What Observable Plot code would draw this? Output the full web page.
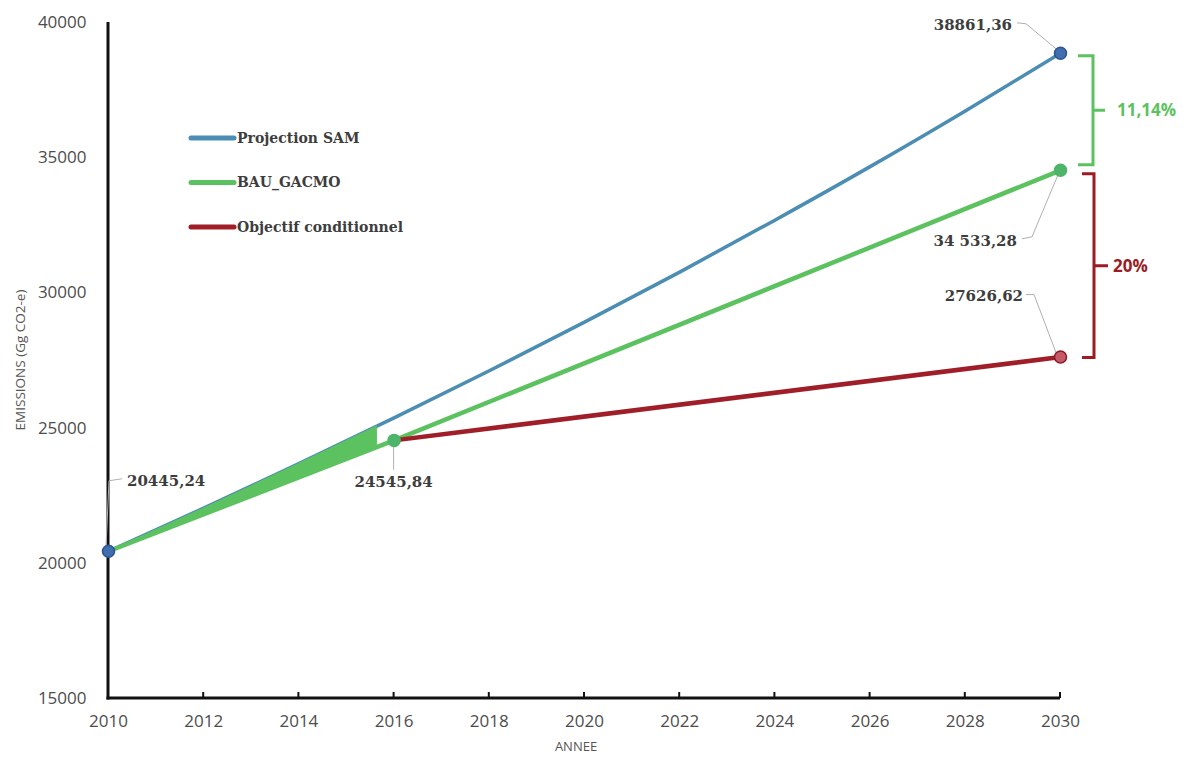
<!DOCTYPE html>
<html><head><meta charset="utf-8">
<script src="https://cdn.jsdelivr.net/npm/d3@7"></script>
<script src="https://cdn.jsdelivr.net/npm/@observablehq/plot@0.6"></script>
<style>body{margin:0;background:#fff;}</style>
</head><body><div id="chart"></div>
<script>
// ---- data ----
const xTicks = [2010, 2012, 2014, 2016, 2018, 2020, 2022, 2024, 2026, 2028, 2030];
const yTicks = [15000, 20000, 25000, 30000, 35000, 40000];
const samYears  = [2010, 2012, 2014, 2016, 2018, 2020, 2022, 2024, 2026, 2028, 2030];
const samValues = [20445.24, 22040, 23690, 25380, 27120, 28920, 30770, 32690, 34670, 36730, 38861.36];
const bauYears  = [2010, 2016, 2030];
const bauValues = [20445.24, 24545.84, 34533.28];
const objYears  = [2016, 2030];
const objValues = [24545.84, 27626.62];
const wedgeYears = [2010, 2012, 2014, 2015.65];
const wedgeLow   = [20445.24, 21812, 23179, 24306];
const wedgeHigh  = [20445.24, 22040, 23690, 25090];
const seriesNames  = ["Projection SAM", "BAU_GACMO", "Objectif conditionnel"];
const seriesColors = ["#4b8db3", "#5cc260", "#a01e28"];
const labelYears  = [2010, 2016, 2030, 2030, 2030];
const labelValues = [20445.24, 24545.84, 38861.36, 34533.28, 27626.62];
const labelTexts  = ["20445,24", "24545,84", "38861,36", "34 533,28", "27626,62"];
const dotFills    = ["#3f6fae", "#4cb56a", "#3f6fae", "#4cb56a", "#c45a68"];
const dotStrokes  = ["#2d5590", "#4cb56a", "#2d5590", "#4cb56a", "#8b1a22"];
const gapTop    = [38861.36, 34533.28];
const gapBottom = [34533.28, 27626.62];
const gapTexts  = ["11,14%", "20%"];
const gapColors = ["#5cc260", "#9b1c24"];
const xTitle = "ANNEE";
const yTitle = "EMISSIONS (Gg CO2-e)";

// ---- layout (pixel offsets only) ----
const labelLayout = [
  {dx: 19, dy: -70, anchor: "start", leader: [[-2, -4], [1, -70], [14, -72]]},
  {dx: 0, dy: 42, anchor: "middle", leader: [[0, 5], [0, 30]]},
  {dx: -48, dy: -28, anchor: "end", leader: [[-4, -4], [-34, -29], [-43, -30]]},
  {dx: -43, dy: 71, anchor: "end", leader: [[-2, 5], [-28, 67], [-38, 69]]},
  {dx: -37, dy: -61, anchor: "end", leader: [[-4, -4], [-26, -62], [-34, -62]]}
];
const bracketLayout = [
  {dx: 33, top: 3, bottom: -5, cap: 15, tick: 12, textDx: 57},
  {dx: 34, top: 4, bottom: 1, cap: 12, tick: 14, textDx: 53}
];

function annotate(index, scales, values, dims) {
  const X = scales.x, Y = scales.y;
  const g = d3.create("svg:g").attr("text-anchor", "start");
  const fl = dims.marginLeft, ft = dims.marginTop;
  const fb = dims.height - dims.marginBottom;
  const fr = dims.width - dims.marginRight;
  // axis lines
  g.append("line").attr("x1", fl).attr("x2", fl).attr("y1", ft).attr("y2", fb + 1.5)
    .attr("stroke", "#111").attr("stroke-width", 3);
  g.append("line").attr("x1", fl - 1.5).attr("x2", fr).attr("y1", fb).attr("y2", fb)
    .attr("stroke", "#111").attr("stroke-width", 3);
  xTicks.forEach(t => {
    g.append("line").attr("x1", X(t)).attr("x2", X(t)).attr("y1", fb).attr("y2", fb - 6)
      .attr("stroke", "#111").attr("stroke-width", 2);
  });
  // axis titles
  g.append("text").attr("x", (fl + fr) / 2 - 8).attr("y", fb + 53)
    .attr("text-anchor", "middle").attr("font-family", "Open Sans").attr("font-size", 13)
    .attr("fill", "#555").text(xTitle);
  g.append("text").attr("transform", `translate(${fl - 88},${(ft + fb) / 2}) rotate(-90)`)
    .attr("text-anchor", "middle").attr("dy", "0.35em").attr("font-family", "Open Sans").attr("font-size", 13.5)
    .attr("fill", "#555").text(yTitle);
  // leaders + labels
  labelTexts.forEach((t, i) => {
    const px = X(labelYears[i]), py = Y(labelValues[i]);
    const L = labelLayout[i];
    g.append("polyline").attr("points", L.leader.map(([a, b]) => `${px + a},${py + b}`).join(" "))
      .attr("fill", "none").attr("stroke", "#b0b0b0").attr("stroke-width", 1);
    g.append("text").attr("x", px + L.dx).attr("y", py + L.dy).attr("dy", "0.35em")
      .attr("text-anchor", L.anchor).attr("font-family", "DejaVu Serif").attr("font-weight", "bold")
      .attr("font-size", 15).attr("fill", "#3d3d3d").text(t);
  });
  // brackets
  gapTexts.forEach((t, i) => {
    const B = bracketLayout[i];
    const bx = X(2030) + B.dx;
    const y1 = Y(gapTop[i]) + B.top, y2 = Y(gapBottom[i]) + B.bottom;
    const ym = (y1 + y2) / 2;
    g.append("path").attr("d", `M${bx - B.cap},${y1}H${bx}V${y2}H${bx - B.cap}M${bx},${ym}H${bx + B.tick}`)
      .attr("fill", "none").attr("stroke", gapColors[i]).attr("stroke-width", 3);
    g.append("text").attr("x", X(2030) + B.textDx).attr("y", ym).attr("dy", "0.35em")
      .attr("text-anchor", "start")
      .attr("font-family", "Open Sans").attr("font-weight", "bold").attr("font-size", 17)
      .attr("fill", gapColors[i]).text(t);
  });
  // legend
  seriesNames.forEach((n, i) => {
    const ly = ft + 116 + i * 44.5;
    g.append("line").attr("x1", fl + 83).attr("x2", fl + 126).attr("y1", ly).attr("y2", ly)
      .attr("stroke", seriesColors[i]).attr("stroke-width", 5).attr("stroke-linecap", "round");
    g.append("text").attr("x", fl + 129).attr("y", ly).attr("dy", "0.35em")
      .attr("text-anchor", "start")
      .attr("font-family", "DejaVu Serif").attr("font-weight", "bold").attr("font-size", 14)
      .attr("fill", "#3d3d3d").text(n);
  });
  return g.node();
}

const idx = labelTexts.map((d, i) => i);

const chart = Plot.plot({
  width: 1191,
  height: 760,
  marginLeft: 108,
  marginRight: 131,
  marginTop: 22,
  marginBottom: 62,
  style: {fontFamily: "Open Sans", fontSize: "17px", color: "#4d4d4d", background: "#fff"},
  x: {domain: [2010, 2030], ticks: xTicks, tickSize: 0, tickPadding: 16, tickFormat: d => String(d), label: null},
  y: {domain: [15000, 40000], ticks: yTicks, tickSize: 0, tickPadding: 22, tickFormat: d => String(d), label: null},
  color: {type: "identity"},
  marks: [
    Plot.line(samYears.map((d, i) => i), {x: i => samYears[i], y: i => samValues[i], stroke: seriesColors[0], strokeWidth: 3.5, curve: "monotone-x"}),
    Plot.areaY(wedgeYears.map((d, i) => i), {x: i => wedgeYears[i], y1: i => wedgeLow[i], y2: i => wedgeHigh[i], fill: seriesColors[1]}),
    Plot.line(bauYears.map((d, i) => i), {x: i => bauYears[i], y: i => bauValues[i], stroke: seriesColors[1], strokeWidth: 4.5}),
    Plot.line(objYears.map((d, i) => i), {x: i => objYears[i], y: i => objValues[i], stroke: seriesColors[2], strokeWidth: 4.5}),
    annotate,
    Plot.dot(idx, {x: i => labelYears[i], y: i => labelValues[i], r: 6, fill: i => dotFills[i], stroke: i => dotStrokes[i], strokeWidth: 1.5})
  ]
});
document.getElementById("chart").appendChild(chart);
</script>
</body></html>
